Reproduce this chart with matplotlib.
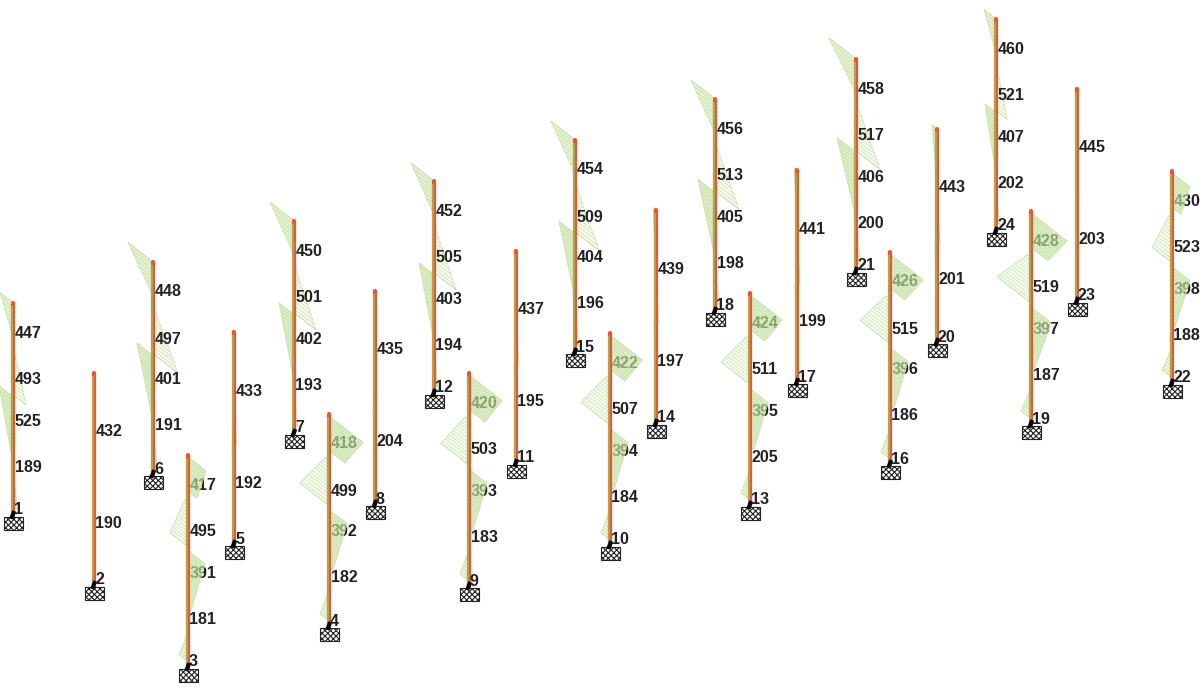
import matplotlib

matplotlib.use("Agg")
from matplotlib import pyplot as plt
from matplotlib.patches import Rectangle

# node number, column x, column top, support top (image pixels of the elevation)
node_ids = list(range(1, 25))
col_x = [13, 94, 188, 329, 234, 153, 294, 375, 469, 610, 516, 434,
         750, 656, 575, 890, 797, 715, 1031, 937, 856, 1172, 1077, 996]
col_top = [303, 373, 455, 414, 332, 262, 221, 291, 373, 333, 251, 181,
           293, 210, 140, 252, 170, 99, 211, 129, 59, 171, 89, 19]
col_base = [516, 586, 668, 627, 545, 475, 434, 505, 587, 546, 464, 394,
            506, 424, 353, 465, 383, 312, 425, 343, 272, 384, 302, 232]

member_labels = [
    [447, 493, 525, 189], [432, 190], [417, 495, 391, 181], [418, 499, 392, 182],
    [433, 192], [448, 497, 401, 191], [450, 501, 402, 193], [435, 204],
    [420, 503, 393, 183], [422, 507, 394, 184], [437, 195], [452, 505, 403, 194],
    [424, 511, 395, 205], [439, 197], [454, 509, 404, 196], [426, 515, 396, 186],
    [441, 199], [456, 513, 405, 198], [428, 519, 397, 187], [443, 201],
    [458, 517, 406, 200], [430, 523, 398, 188], [445, 203], [460, 521, 407, 202],
]

# moment pairs (start, end) for each of the stretches along a column
four_stations = {
    "front": [(0.01, 0.17), (0.22, 0.43), (0.45, 0.72), (0.83, 0.97)],
    "back": [(0.0, 0.16), (0.2, 0.43), (0.44, 0.73), (0.8, 0.95)],
}
two_stations = [(0.0, 0.27), (0.3, 0.52), (0.55, 0.8), (0.82, 0.98)]

moments = {
    1: [-13, 0, 0, 13, -14, -1, 0, 5],
    2: [-1, 0, 0, 1, -1, 0, 0, 1],
    3: [18, 9, -3, -18, 17, 3, 0, -9],
    4: [34, 16, -4, -29, 18, 4, 0, -9],
    5: [-2, 0, 0, 3, -2, 0, 0, 2],
    6: [-25, 0, 0, 25, -16, -1, 0, 5],
    7: [-24, 0, 0, 22, -15, -1, 0, 4],
    8: [-2, 0, 0, 2, -2, 0, 0, 2],
    9: [33, 16, -4, -28, 18, 4, 0, -9],
    10: [32, 15, -4, -29, 18, 4, 0, -9],
    11: [-2, 0, 0, 3, -2, 0, 0, 2],
    12: [-23, 0, 0, 22, -15, -1, 0, 4],
    13: [32, 15, -4, -29, 18, 4, 0, -9],
    14: [-3, 0, 0, 3, -2, 0, 0, 2],
    15: [-24, 0, 0, 24, -16, -1, 0, 4],
    16: [33, 15, -4, -30, 18, 4, 0, -9],
    17: [-3, 0, 0, 3, -2, 0, 0, 2],
    18: [-24, 0, 0, 24, -17, -1, 0, 5],
    19: [36, 17, -4, -34, 20, 4, 0, -10],
    20: [-5, 0, 0, 3, -2, 0, 0, 2],
    21: [-27, 0, 0, 24, -19, -1, 0, 5],
    22: [18, 9, -3, -20, 18, 3, 0, -10],
    23: [-2, 0, 0, 2, -1, 0, 0, 1],
    24: [-12, 0, 0, 11, -11, 0, 0, 4],
}

front_nodes = [3, 4, 9, 10, 13, 16, 19, 22]
back_nodes = [1, 6, 7, 12, 15, 18, 21, 24]

# direction the moment is drawn in, skewed by the projection
skew = 0.78
fill_shade = {
    "front": ["#c4e2a2", "#f3f9ea", "#c4e2a2", "#dcefc8"],
    "back": ["#d2e8b8", "#f3f9ea", "#c4e2a2", "#dcefc8"],
    "mid": ["#c4e2a2", "#dcefc8", "#c4e2a2", "#dcefc8"],
}

plt.rcParams["font.family"] = ["Liberation Sans", "DejaVu Sans"]
plt.rcParams["hatch.linewidth"] = 0.8
fig = plt.figure(figsize=(12, 7), dpi=100)
ax = fig.add_axes([0, 0, 1, 1])
ax.set_xlim(0, 1200)
ax.set_ylim(700, 0)
ax.axis("off")


def draw_diagram(x, top, height, stations, values, shades):
    for seg, (f0, f1) in enumerate(stations):
        m0, m1 = values[2 * seg], values[2 * seg + 1]
        y0, y1 = top + f0 * height, top + f1 * height
        xs = [x, x + m0, x + m1, x]
        ys = [y0, y0 + m0 * skew, y1 + m1 * skew, y1]
        ax.fill(xs, ys, color=shades[seg], alpha=0.6, lw=0, zorder=3)
        ax.plot(xs + [x], ys + [y0], color="#c6e2a6", lw=0.6, alpha=0.8, zorder=3)
        # hatch lines every few pixels along the stretch
        n_lines = max(int((y1 - y0) / 3.5), 1)
        for i in range(n_lines + 1):
            t = i / n_lines
            m = m0 + (m1 - m0) * t
            y = y0 + (y1 - y0) * t
            ax.plot([x, x + m], [y, y + m * skew], color="#bcdc98", lw=0.5,
                    alpha=0.8, zorder=3)


for idx, node in enumerate(node_ids):
    x, top, base = col_x[idx], col_top[idx], col_base[idx]
    height = base - top
    labels = member_labels[idx]

    if node in front_nodes:
        stations, group = four_stations["front"], "front"
    elif node in back_nodes:
        stations, group = four_stations["back"], "back"
    else:
        stations, group = two_stations, "mid"
    draw_diagram(x, top, height, stations, moments[node], fill_shade[group])

    # column, red with the olive stripe on its left half
    ax.plot([x, x], [top, base], color="#f2522e", lw=3.0, solid_capstyle="round", zorder=4)
    ax.plot([x - 0.7, x - 0.7], [top + 3, base], color="#a9a84e", lw=1.5,
            solid_capstyle="butt", zorder=5)

    # member numbers, the ones over a hatched stretch stay on top of it
    if len(labels) == 4:
        offsets = [30, 77, 118, 164]
    else:
        offsets = [59, 151]
    for pos, (lab, off) in enumerate(zip(labels, offsets)):
        z = 3.5 if group == "back" or pos in (1, 3) else 2.5
        ax.text(x + 1.5, top + off, str(lab), fontsize=11.5, fontweight="bold",
                color="#222222", va="center", ha="left", zorder=z)

    # support block and node number
    ax.add_patch(Rectangle((x - 9, base + 1), 18.5, 13, facecolor="white",
                           edgecolor="#222222", hatch="xxxxxx", lw=0.8, zorder=5))
    ax.plot([x - 1, x + 0.5], [base + 1, base - 3], color="black", lw=3, zorder=6)
    ax.text(x + 1, base - 6, str(node), fontsize=11.5, fontweight="bold",
            color="#222222", va="center", ha="left", zorder=6)

fig.savefig("out.png", dpi=100)
